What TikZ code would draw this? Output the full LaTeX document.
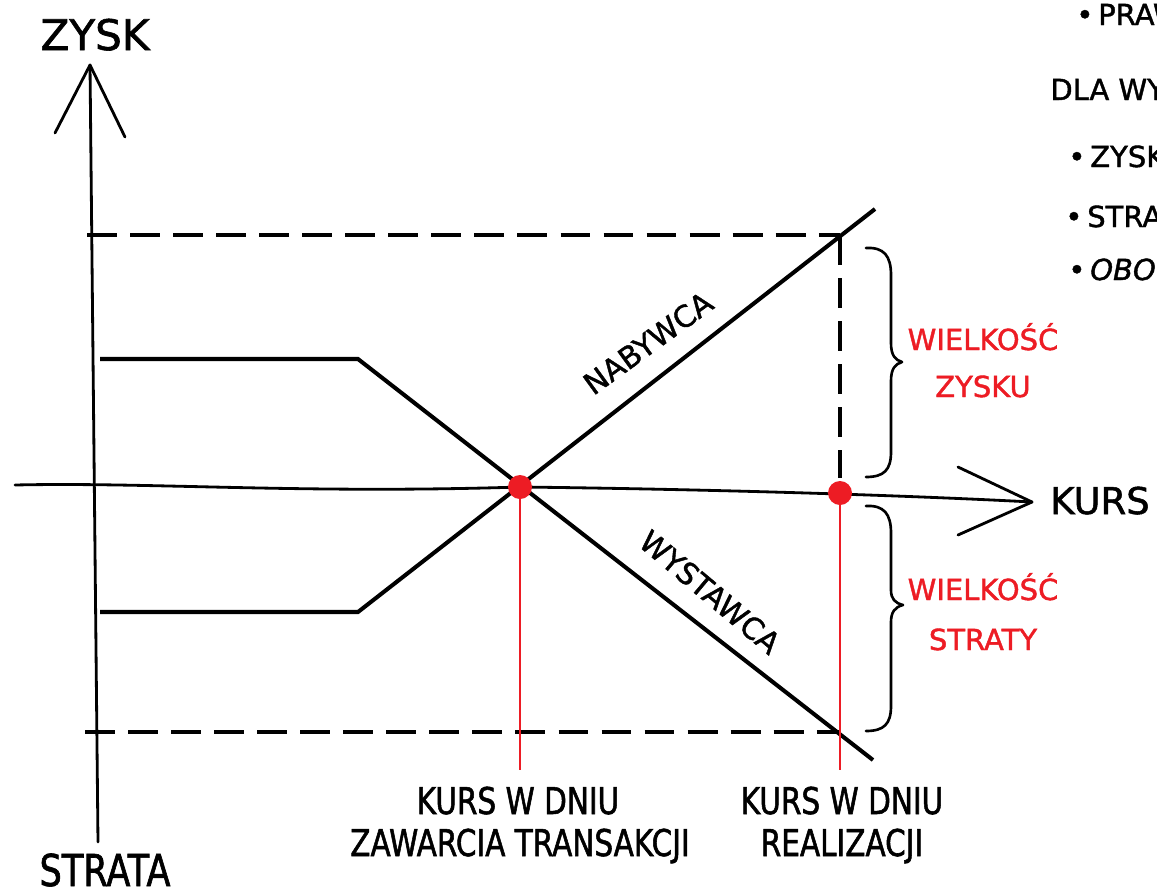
\documentclass[tikz,border=0pt]{standalone}
\usepackage{fontspec}
\setmainfont{DejaVu Sans}[FakeBold=1.4]
\newfontfamily\condfont{DejaVu Sans}[FakeStretch=0.8,FakeBold=1.4]
\definecolor{markred}{RGB}{237,28,36}
\begin{document}
\begin{tikzpicture}[x=0.02cm,y=-0.02cm,
  axis/.style={line width=1.6pt, line cap=round, line join=round},
  payoff/.style={line width=2.3pt, line join=miter},
  guide/.style={line width=2.6pt, dash pattern=on 17pt off 7.5pt},
  marker/.style={markred, line width=1pt},
  dot/.style={circle, fill=markred, inner sep=0pt, minimum size=0.48cm},
  bracket/.style={line width=1.5pt, line cap=round, line join=round},
  lbl/.style={inner sep=0pt, anchor=base},
  big/.style={font=\fontsize{24}{28}\selectfont},
  mid/.style={font=\fontsize{21}{25}\selectfont},
  small/.style={font=\fontsize{16.5}{20}\selectfont},
  note/.style={font=\fontsize{16.5}{20}\selectfont, inner sep=0pt, anchor=base west},
  slope/.style={font=\fontsize{17}{20}\selectfont, inner sep=0pt},
  foot/.style={font=\condfont\fontsize{21}{25}\selectfont},
  redlbl/.style={small, text=markred}]
\fill[white] (0,0) rectangle (1157,890);
\useasboundingbox (0,0) rectangle (1157,890);
\clip (0,0) rectangle (1157,890);

% key points
\coordinate (ytop) at (90,65);
\coordinate (ybot) at (98,842);
\coordinate (xl) at (15,485);
\coordinate (xtip) at (1032,502);
\coordinate (cross) at (520,487);
\coordinate (real) at (840,493);
\coordinate (crossfoot) at (520,770);
\coordinate (realfoot) at (840,770);

% vertical axis (profit / loss) with open arrowhead
\draw[axis] (ybot) -- (ytop);
\draw[axis] (55,133) -- (ytop) -- (125,137);

% horizontal axis (exchange rate) with open arrowhead
\draw[axis] (xl) .. controls (150,482) and (300,494) .. (cross)
            .. controls (700,489) and (900,495) .. (xtip);
\draw[axis] (958,467) -- (xtip) -- (958,535);

% dashed guides
\coordinate (gTL) at (87,235);
\coordinate (gTR) at (840,235);
\coordinate (gV)  at (840,478);
\coordinate (gBL) at (85,732);
\coordinate (gBR) at (840,732);
\draw[guide] (gTL) -- (gTR);
\draw[guide] (gTR) -- (gV);
\draw[guide] (gBL) -- (gBR);

% payoff lines
\coordinate (wA) at (100,359);
\coordinate (wK) at (358,359);
\coordinate (wE) at (873,760);
\coordinate (nA) at (100,612);
\coordinate (nK) at (358,612);
\coordinate (nE) at (875,209);
\draw[payoff] (wA) -- (wK) -- (wE);
\draw[payoff] (nA) -- (nK) -- (nE);

% red markers
\draw[marker] (cross) -- (crossfoot);
\draw[marker] (real) -- (realfoot);
\node[dot] (crossdot) at (cross) {};
\node[dot] (realdot) at (real) {};

% braces
\draw[bracket] (866,248) .. controls (884,247) and (891,256) .. (891,275)
  -- (891,343) .. controls (891,355) and (895,360) .. (902,362)
  .. controls (895,364) and (891,369) .. (891,381)
  -- (891,452) .. controls (891,470) and (884,477) .. (866,477);
\draw[bracket] (866,506) .. controls (884,505) and (891,514) .. (891,533)
  -- (891,590) .. controls (891,599) and (895,603) .. (903,605)
  .. controls (895,607) and (891,612) .. (891,622)
  -- (891,706) .. controls (891,724) and (884,731) .. (866,731);

% axis labels
\node[lbl, big] (zysk) at (95,50) {ZYSK};
\node[lbl, font=\condfont\fontsize{25}{30}\selectfont] (strata) at (105,886) {STRATA};
\node[lbl, mid, anchor=base west] (kurs) at (1050,514) {KURS};

% line labels
\node[slope, rotate=36] (nab) at (648,343) {NABYWCA};
\node[slope, rotate=-40] (wys) at (710,592) {WYSTAWCA};

% brace labels
\node[lbl, redlbl] (wz1) at (983,350) {WIELKOŚĆ};
\node[lbl, redlbl] (wz2) at (983,397) {ZYSKU};
\node[lbl, redlbl] (ws1) at (983,600) {WIELKOŚĆ};
\node[lbl, redlbl] (ws2) at (983,650) {STRATY};

% rate labels
\node[lbl, foot] (k1a) at (518,814) {KURS W DNIU};
\node[lbl, foot] (k1b) at (520,856) {ZAWARCIA TRANSAKCJI};
\node[lbl, foot] (k2a) at (842,814) {KURS W DNIU};
\node[lbl, foot] (k2b) at (842,856) {REALIZACJI};

% side notes
\node[note] (n1) at (1076,25) {•\,PRAW};
\node[note] (n2) at (1050,100) {DLA WY};
\node[note] (n3) at (1068,167) {•\,ZYSK};
\node[note] (n4) at (1065,227) {•\,STRA};
\node[note] (n5) at (1068,280) {\itshape •\,OBO};
\end{tikzpicture}
\end{document}
